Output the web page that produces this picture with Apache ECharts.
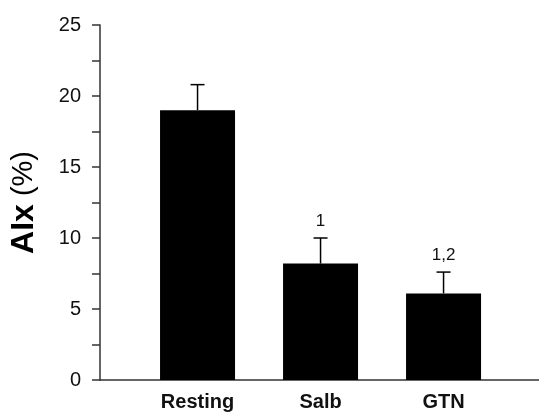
<!DOCTYPE html>
<html>
<head>
<meta charset="utf-8">
<script src="https://cdn.jsdelivr.net/npm/echarts@6/dist/echarts.min.js"></script>
<style>
html,body{margin:0;padding:0;background:#fff;}
#chart{width:539px;height:413px;}
</style>
</head>
<body>
<div id="chart"></div>
<script>
const categories = ['Resting', 'Salb', 'GTN'];
const means = [19.0, 8.2, 6.1];
const upperErr = [1.8, 1.8, 1.5];
const sigLabels = ['', '1', '1,2'];
const yMin = 0, yMax = 25, yInterval = 2.5, yLabelStep = 5;

const FONT = 'Liberation Sans, Arial, sans-serif';
const positions = categories.map((c, i) => i + 1);
const barData = positions.map((x, i) => [x, means[i]]);
const errData = positions.map((x, i) => [x, means[i], means[i] + upperErr[i], i]);

const chart = echarts.init(document.getElementById('chart'), null, {renderer: 'canvas'});
chart.setOption({
  animation: false,
  backgroundColor: '#fff',
  grid: {left: 100, right: 0, top: 25, bottom: 33},
  xAxis: {
    type: 'value',
    min: 0.207, max: 3.776,
    splitLine: {show: false},
    axisLine: {show: true, lineStyle: {color: '#333', width: 1.5}},
    axisTick: {show: false},
    axisLabel: {
      customValues: positions,
      formatter: v => categories[Math.round(v) - 1] || '',
      fontFamily: FONT, fontWeight: 'bold', fontSize: 20, color: '#111', margin: 12
    }
  },
  yAxis: {
    type: 'value',
    min: yMin, max: yMax, interval: yInterval,
    splitLine: {show: false},
    axisLine: {show: true, lineStyle: {color: '#333', width: 1.5}},
    axisTick: {show: true, inside: false, length: 8, lineStyle: {color: '#333', width: 1.5}},
    axisLabel: {
      formatter: v => (Math.abs(v % yLabelStep) < 1e-9 ? String(v) : ''),
      fontFamily: FONT, fontSize: 20, color: '#111', margin: 19
    },
    name: '{b|AIx}{r| (%)}',
    nameLocation: 'middle',
    nameGap: 60,
    nameTextStyle: {
      rich: {
        b: {fontFamily: FONT, fontWeight: 'bold', fontSize: 32, color: '#000'},
        r: {fontFamily: FONT, fontSize: 29, color: '#000'}
      }
    }
  },
  series: [
    {
      type: 'bar',
      data: barData,
      barWidth: 75,
      itemStyle: {color: '#000'},
      z: 2
    },
    {
      type: 'custom',
      data: errData,
      z: 3,
      renderItem: function (params, api) {
        const x = api.value(0), lo = api.value(1), hi = api.value(2), idx = api.value(3);
        const p0 = api.coord([x, lo]);
        const p1 = api.coord([x, hi]);
        const st = {stroke: '#000', lineWidth: 1.5};
        return {
          type: 'group',
          children: [
            {type: 'line', shape: {x1: p0[0], y1: p0[1], x2: p1[0], y2: p1[1]}, style: st},
            {type: 'line', shape: {x1: p1[0] - 7, y1: p1[1], x2: p1[0] + 7, y2: p1[1]}, style: st},
            {type: 'text', style: {
              text: sigLabels[idx], x: p1[0], y: p1[1] - 8,
              textAlign: 'center', textVerticalAlign: 'bottom',
              font: '17px ' + FONT, fill: '#111'
            }}
          ]
        };
      }
    }
  ]
});
</script>
</body>
</html>
